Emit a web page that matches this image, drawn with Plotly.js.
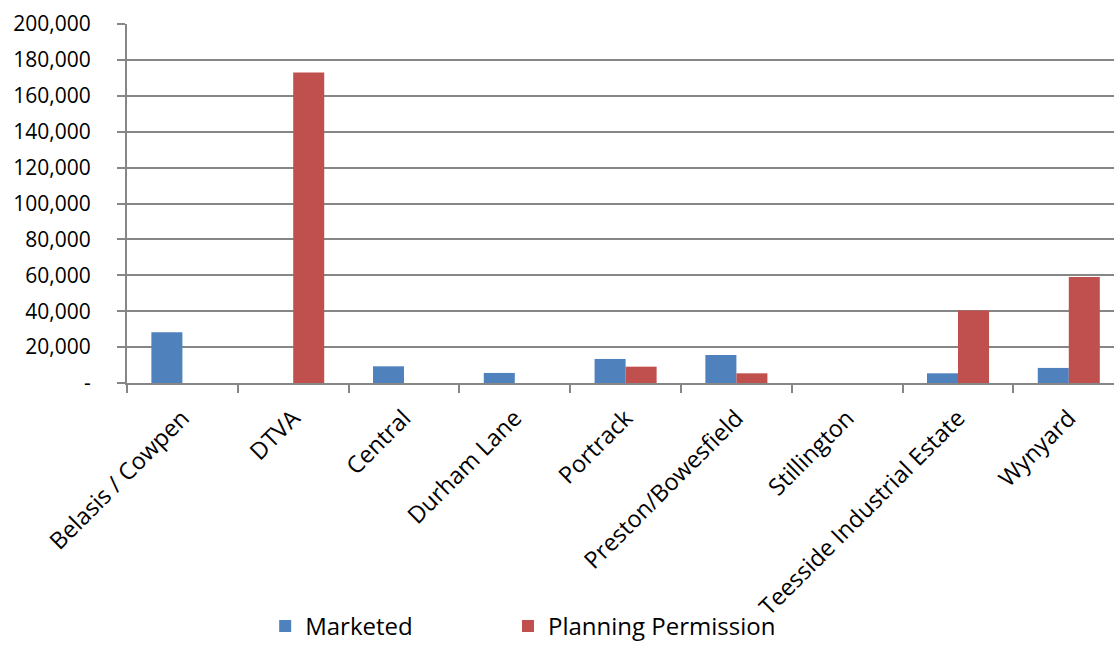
<!DOCTYPE html>
<html><head><meta charset="utf-8">
<script src="https://cdn.plot.ly/plotly-3.0.1.min.js"></script>
<style>html,body{margin:0;padding:0;background:#fff;overflow:hidden;width:1114px;height:648px}#c{width:1114px;height:648px}</style>
</head><body><div id="c"></div>
<script>
const categories = ["Belasis / Cowpen","DTVA","Central","Durham Lane","Portrack","Preston/Bowesfield","Stillington","Teesside Industrial Estate","Wynyard"];
const marketed = [28300, 0, 9300, 5600, 13400, 15600, 0, 5400, 8400];
const planning = [0, 173000, 0, 0, 9100, 5400, 0, 40400, 59000];
const yTickVals = [0,20000,40000,60000,80000,100000,120000,140000,160000,180000,200000];
const yTickText = ["-","20,000","40,000","60,000","80,000","100,000","120,000","140,000","160,000","180,000","200,000"];

const fam = "Open Sans, Liberation Sans, sans-serif";
const yfont = {family: fam, size: 21, color: "#000"};
const xfont = {family: fam, size: 23.5, color: "#000"};
const lfont = {family: fam, size: 24, color: "#000"};
const data = [
  {type:"bar", name:"Marketed", x:categories, y:marketed, legend:"legend", marker:{color:"#4F81BD", line:{width:0}}},
  {type:"bar", name:"Planning Permission", x:categories, y:planning, legend:"legend2", marker:{color:"#C0504D", line:{width:0}}}
];
const legBase = {orientation:"h", xanchor:"left", y:-0.615, yanchor:"top", font:lfont, itemwidth:30, bgcolor:"rgba(0,0,0,0)"};
const layout = {
  width:1114, height:648,
  margin:{l:127, r:0, t:24, b:265, autoexpand:false},
  paper_bgcolor:"#fff", plot_bgcolor:"#fff",
  font: yfont,
  barmode:"group", bargap:0.44, bargroupgap:0,
  showlegend:true,
  legend:Object.assign({}, legBase, {x:0.14}),
  legend2:Object.assign({}, legBase, {x:0.386}),
  xaxis:{type:"category", range:[-0.5, 8.408], tickangle:-45, tickson:"boundaries", ticks:"outside", ticklen:8, tickcolor:"#868686", tickwidth:2,
         showline:true, linecolor:"#868686", linewidth:2, showgrid:false, tickfont:xfont, ticklabelstandoff:10, automargin:false},
  yaxis:{range:[0,200000], tickvals:yTickVals, ticktext:yTickText, ticks:"outside", ticklen:8, tickcolor:"#868686", tickwidth:2,
         showline:true, linecolor:"#868686", linewidth:2, showgrid:true, gridcolor:"#868686", gridwidth:2, zeroline:false,
         tickfont:yfont, ticklabelstandoff:22, automargin:false}
};
Plotly.newPlot("c", data, layout, {displayModeBar:false, staticPlot:true});
</script></body></html>
